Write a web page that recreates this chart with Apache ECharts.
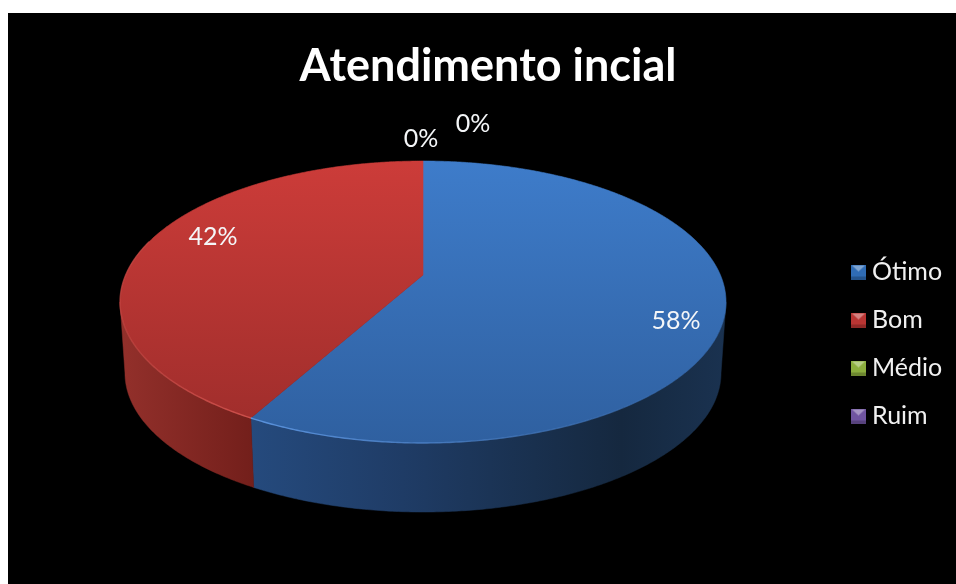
<!DOCTYPE html>
<html>
<head>
<meta charset="utf-8">
<style>
html, body { margin: 0; padding: 0; background: #fff; }
#chart { width: 956px; height: 584px; }
</style>
<script src="https://cdn.jsdelivr.net/npm/echarts@6/dist/echarts.min.js"></script>
</head>
<body>
<div id="chart"></div>
<script>
// Survey results
const categories = ['Ótimo', 'Bom', 'Médio', 'Ruim'];
const values = [58, 42, 0, 0];

// Disc projection: a circle seen in perspective, top rim and bottom rim
const TILT = -0.1915;
const TOP_RIM = { cx: 423, cy: 275, a: 297.4, b: 135.8 };
const BOTTOM_RIM = { cx: 423, cy: 346.4, a: 292.5, b: 133.9 };
// Angles, clockwise from the back of the disc, where the wall turns out of sight
const WALL_FROM = 101;
const WALL_TO = 259;

// Per-category styling
const topColors = [['#3e7cca', '#2f60a0'], ['#cc3c39', '#a12e2c'], ['#9bbb59', '#7f9a45'], ['#8064a2', '#644e80']];
const wallColors = [
  [[0, '#254a7d'], [0.32, '#1f3c66'], [0.55, '#1a3252'], [0.78, '#15283f'], [1, '#1a3250']],
  [[0, '#93302b'], [1, '#731f1b']],
  [[0, '#6f8a3a'], [1, '#56702b']],
  [[0, '#5a4578'], [1, '#463660']]
];
const rimColors = ['#5a92dc', '#de5a55', '#b5d070', '#a088c5'];
const legendColors = ['#2f6cb5', '#b93533', '#8cae3e', '#7055a0'];
const labelAnchors = [[676, 321], [213, 237], [421, 139], [473, 124]];

const total = values.reduce((s, v) => s + v, 0);

function project(rim, deg) {
  const t = deg * Math.PI / 180;
  const u = Math.sin(t), v = -Math.cos(t);
  const w = 1 + TILT * v;
  return [rim.cx + rim.a * u / w, rim.cy + rim.b * v / w];
}

function arc(rim, from, to) {
  const pts = [];
  const n = Math.max(2, Math.ceil((to - from) * 2));
  for (let i = 0; i <= n; i++) pts.push(project(rim, from + (to - from) * i / n));
  return pts;
}

function xGradient(stops, x0, x1) {
  return new echarts.graphic.LinearGradient(x0, 0, x1, 0,
    stops.map(s => ({ offset: s[0], color: s[1] })), true);
}

function renderSlice(index, params, api) {
  const value = api.value(0);
  const start = values.slice(0, index).reduce((s, v) => s + v, 0) / total * 360;
  const sweep = value / total * 360;
  const end = start + sweep;
  const children = [];

  if (sweep > 0) {
    // Outer wall, only the part facing the viewer
    const wallStart = Math.max(start, WALL_FROM);
    const wallEnd = Math.min(end, WALL_TO);
    if (wallEnd > wallStart) {
      const wallTop = arc(TOP_RIM, wallStart, wallEnd);
      const wallBottom = arc(BOTTOM_RIM, wallStart, wallEnd);
      const wallX = wallTop.concat(wallBottom).map(p => p[0]);
      const wallFill = xGradient(wallColors[index], Math.min(...wallX), Math.max(...wallX));
      children.push({
        type: 'polygon',
        z2: 1,
        shape: { points: wallTop.concat(wallBottom.slice().reverse()) },
        style: { fill: wallFill, stroke: wallFill, lineWidth: 0.5 }
      });
    }

    // Top face with a vertical light falloff
    const topPts = [[TOP_RIM.cx, TOP_RIM.cy]].concat(arc(TOP_RIM, start, end));
    const ys = topPts.map(p => p[1]);
    const topFill = new echarts.graphic.LinearGradient(0, Math.min(...ys), 0, Math.max(...ys), [
      { offset: 0, color: topColors[index][0] },
      { offset: 1, color: topColors[index][1] }
    ], true);
    children.push({
      type: 'polygon',
      z2: 2,
      shape: { points: topPts },
      style: { fill: topFill, stroke: topFill, lineWidth: 0.6 }
    });

    // Bevel highlight along the visible front edge, fading to the right
    const edgeFrom = Math.max(start, 120);
    const edgeTo = Math.min(end, 285);
    if (edgeTo > edgeFrom) {
      const edge = arc(TOP_RIM, edgeFrom, edgeTo);
      const edgeX = edge.map(p => p[0]);
      const x0 = Math.min(...edgeX), x1 = Math.max(...edgeX);
      children.push({
        type: 'polyline',
        z2: 3,
        shape: { points: edge },
        style: {
          fill: null,
          lineWidth: 1.4,
          stroke: new echarts.graphic.LinearGradient(x0, 0, x1, 0, index === 0
            ? [{ offset: 0, color: rimColors[index] }, { offset: 0.5, color: rimColors[index] + '77' }, { offset: 1, color: rimColors[index] + '00' }]
            : [{ offset: 0, color: rimColors[index] + '55' }, { offset: 1, color: rimColors[index] + 'cc' }], true)
        }
      });
    }
  }

  // Percentage label
  children.push({
    type: 'text',
    z2: 5,
    style: {
      x: labelAnchors[index][0],
      y: labelAnchors[index][1],
      text: Math.round(value / total * 100) + '%',
      fill: '#f4f6f8',
      font: '25px Lato, "Open Sans", sans-serif',
      align: 'center',
      verticalAlign: 'middle'
    }
  });
  return { type: 'group', children };
}

// Bevelled square for the legend keys
function bevelIcon(color) {
  const c = document.createElement('canvas');
  c.width = c.height = 15;
  const g = c.getContext('2d');
  g.fillStyle = color;
  g.fillRect(0, 0, 15, 15);
  g.fillStyle = 'rgba(0,0,0,0.22)';
  g.fillRect(0, 12, 15, 3);
  g.fillStyle = 'rgba(255,255,255,0.38)';
  g.beginPath();
  g.moveTo(1, 1); g.lineTo(14, 1); g.lineTo(7.5, 7); g.closePath();
  g.fill();
  return 'image://' + c.toDataURL();
}

const chart = echarts.init(document.getElementById('chart'), null, { renderer: 'canvas' });
chart.setOption({
  backgroundColor: '#ffffff',
  animation: false,
  graphic: [{
    type: 'rect',
    z: -10,
    silent: true,
    shape: { x: 8, y: 13, width: 948, height: 571 },
    style: { fill: '#000000' }
  }],
  title: {
    text: 'Atendimento incial',
    left: 483,
    top: 39,
    textAlign: 'center',
    textStyle: { color: '#ffffff', fontFamily: 'Lato, "Open Sans", sans-serif', fontWeight: 'bold', fontSize: 45 }
  },
  legend: {
    orient: 'vertical',
    left: 846,
    top: 252,
    itemWidth: 15,
    itemHeight: 15,
    itemGap: 18,
    selectedMode: false,
    textStyle: { color: '#f0f0f0', fontFamily: 'Lato, "Open Sans", sans-serif', fontSize: 25, padding: [0, 0, 0, 1], lineHeight: 30 },
    data: categories.map((name, i) => ({ name, icon: bevelIcon(legendColors[i]) }))
  },
  series: categories.map((name, i) => ({
    type: 'custom',
    name,
    coordinateSystem: 'none',
    color: legendColors[i],
    silent: true,
    renderItem: (params, api) => renderSlice(i, params, api),
    encode: { value: 0 },
    data: [[values[i]]]
  }))
});
</script>
</body>
</html>
